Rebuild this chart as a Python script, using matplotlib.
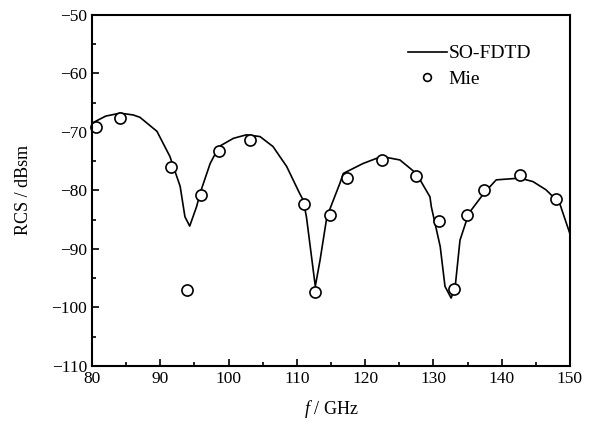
import matplotlib
matplotlib.use("Agg")
import matplotlib.pyplot as plt
from matplotlib.ticker import MultipleLocator

plt.rcParams['font.family'] = ['Liberation Serif', 'DejaVu Serif']
plt.rcParams['mathtext.fontset'] = 'custom'
plt.rcParams['mathtext.it'] = 'Liberation Serif:italic'
plt.rcParams['mathtext.rm'] = 'Liberation Serif'

# === SO-FDTD curve (GHz, dBsm) ===
fdtd_freq = [80.0, 82.0, 84.1, 86.0, 87.0, 89.5, 91.4, 92.9, 93.6, 94.3, 95.3,
             95.9, 97.3, 98.6, 100.7, 102.6, 104.6, 106.5, 108.5, 110.4, 110.9,
             111.4, 112.7, 113.4, 114.4, 116.3, 116.8, 119.7, 122.4, 125.1,
             127.5, 129.5, 129.7, 131.0, 131.7, 132.6, 133.2, 133.9, 135.2,
             137.4, 139.2, 142.7, 144.6, 146.5, 148.5, 150.0]
fdtd_rcs = [-68.5, -67.3, -66.8, -67.1, -67.5, -69.9, -74.2, -79.3, -84.5,
            -86.1, -82.8, -80.2, -75.4, -72.5, -71.1, -70.5, -70.8, -72.5,
            -75.9, -80.5, -81.6, -84.5, -96.4, -91.9, -84.5, -78.8, -77.1,
            -75.4, -74.2, -74.8, -77.1, -81.1, -82.8, -89.6, -96.4, -98.4,
            -96.4, -88.5, -83.9, -80.5, -78.2, -77.9, -78.5, -79.9, -82.2,
            -87.4]

# === Mie reference points ===
mie_freq = [80.5, 84.1, 91.6, 93.9, 95.9, 98.6, 103.2, 111.1, 112.7, 114.9,
            117.4, 122.4, 127.5, 130.8, 133.0, 134.9, 137.4, 142.7, 148.0]
mie_rcs = [-69.1, -67.6, -76.0, -97.1, -80.8, -73.2, -71.4, -82.4, -97.3,
           -84.2, -77.9, -74.8, -77.6, -85.3, -96.8, -84.2, -80.0, -77.4, -81.5]

fig = plt.figure(figsize=(5.98, 4.25), dpi=100)
ax = fig.add_axes([0.154, 0.139, 0.799, 0.826])

ax.plot(fdtd_freq, fdtd_rcs, color='black', lw=1.2, label='SO-FDTD')
ax.plot(mie_freq, mie_rcs, 'o', ms=8, mfc='white', mec='black', mew=1.2,
        label='Mie', clip_on=False)

ax.set_xlim(80, 150)
ax.set_ylim(-110, -50)
ax.xaxis.set_major_locator(MultipleLocator(10))
ax.xaxis.set_minor_locator(MultipleLocator(5))
ax.yaxis.set_major_locator(MultipleLocator(10))
ax.yaxis.set_minor_locator(MultipleLocator(5))
ax.tick_params(which='both', direction='in', top=False, right=False,
               labelsize=12.5, width=1.2)
ax.tick_params(which='major', length=5)
ax.tick_params(which='minor', length=3)
for s in ax.spines.values():
    s.set_linewidth(1.5)

ax.set_xlabel(r'$f$ / GHz', fontsize=13, labelpad=8)
ax.set_ylabel('RCS / dBsm', fontsize=13, labelpad=14)

ax.legend(loc='upper left', bbox_to_anchor=(0.661, 0.915), frameon=False,
          fontsize=14, handlelength=2.0, handletextpad=0.1, markerscale=0.7,
          labelspacing=0.4, borderpad=0, borderaxespad=0)

fig.savefig('out.png', dpi=100)
